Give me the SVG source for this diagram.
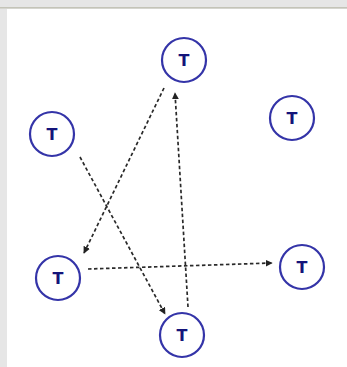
<svg xmlns="http://www.w3.org/2000/svg" width="347" height="367" viewBox="0 0 347 367">
<style>
.node circle{fill:#ffffff;stroke:#3434a8;stroke-width:2.2}
.node text{font-family:"DejaVu Sans","Liberation Sans",sans-serif;font-weight:bold;font-size:16px;fill:#14147a;text-anchor:middle}
.edge{fill:none;stroke:#2a2a2a;stroke-width:1.7;stroke-dasharray:3.5 2.5;marker-end:url(#ah)}
</style>
<defs>
<marker id="ah" viewBox="0 0 10 10" refX="9" refY="5" markerWidth="7" markerHeight="7" markerUnits="userSpaceOnUse" orient="auto">
<path d="M0,0 L10,5 L0,10 z" fill="#222222"/>
</marker>
</defs>
<rect x="0" y="0" width="347" height="367" fill="#e6e6e6"/>
<rect x="0" y="7" width="347" height="1.5" fill="#c4c4b8"/>
<rect x="7" y="9" width="340" height="358" fill="#ffffff"/>
<g id="connectors">
<line class="edge" x1="164" y1="88" x2="84" y2="253"/>
<line class="edge" x1="80" y1="157" x2="165" y2="314"/>
<line class="edge" x1="188" y1="307" x2="175" y2="93"/>
<line class="edge" x1="88" y1="269" x2="272" y2="263"/>
</g>
<g id="n1" class="node"><circle cx="184" cy="60" r="22"/><text x="184" y="66">T</text></g>
<g id="n2" class="node"><circle cx="292" cy="118" r="22"/><text x="292" y="124">T</text></g>
<g id="n3" class="node"><circle cx="52" cy="134" r="22"/><text x="52" y="140">T</text></g>
<g id="n4" class="node"><circle cx="58" cy="278" r="22"/><text x="58" y="284">T</text></g>
<g id="n5" class="node"><circle cx="302" cy="267" r="22"/><text x="302" y="273">T</text></g>
<g id="n6" class="node"><circle cx="182" cy="335" r="22"/><text x="182" y="341">T</text></g>
</svg>
